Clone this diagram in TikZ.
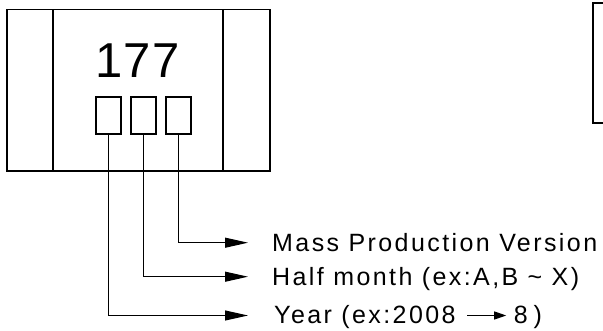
\documentclass[tikz,border=0pt]{standalone}
\usepackage{fontspec}
\setmainfont{Liberation Sans}[LetterSpace=9.7]
\newfontfamily\numfont{Liberation Sans}[LetterSpace=3]
\usetikzlibrary{arrows.meta,positioning}

\begin{document}
\begin{tikzpicture}[x=1pt,y=-1pt,
  chip/.style={draw,line width=1.6pt},
  digit/.style={draw,line width=1.3pt,minimum width=25pt,minimum height=37pt,inner sep=0pt},
  lead/.style={line width=1pt,-{Triangle[length=23pt,width=10pt]}},
  tag/.style={anchor=west,inner xsep=24pt,inner ysep=0pt,text height=17pt,text depth=0pt,
    font=\fontsize{25}{25}\selectfont}]
\useasboundingbox (0,0) rectangle (603,331);
% chip outline
\draw[chip] (7,9.5) rectangle (270,171);
\draw[chip] (53,9.5) -- (53,171);
\draw[chip] (223,9.5) -- (223,171);
% box at the right edge
\draw[chip] (603,3) -- (593,3) -- (593,123) -- (603,123);
% marking
\node[anchor=base,font=\numfont\fontsize{49}{49}\selectfont] (code) at (137.5,78) {177};
\node[digit] (yr) at (108.5,115.5) {};
\node[digit] (hm) at (143.5,115.5) {};
\node[digit] (mp) at (178.5,115.5) {};
% labels
\node[tag] (mpl) at (248,242.7) {Mass Production Version};
\node[tag] (hml) at (248,276.7) {Half month (ex:A,B \textasciitilde\ X)};
\node[tag,inner xsep=26pt] (yrl) at (248,315.5) {Year (ex:2008\hspace{11pt}\tikz[baseline=-8.5pt]\draw[line width=1.2pt,-{Triangle[length=12pt,width=8pt]}] (0,0) -- (39pt,0);\hspace{7pt}8\hspace{6pt})};
% leads
\draw[lead] (mp.south) |- (mpl.west);
\draw[lead] (hm.south) |- (hml.west);
\draw[lead] (yr.south) |- (yrl.west);
\end{tikzpicture}
\end{document}
